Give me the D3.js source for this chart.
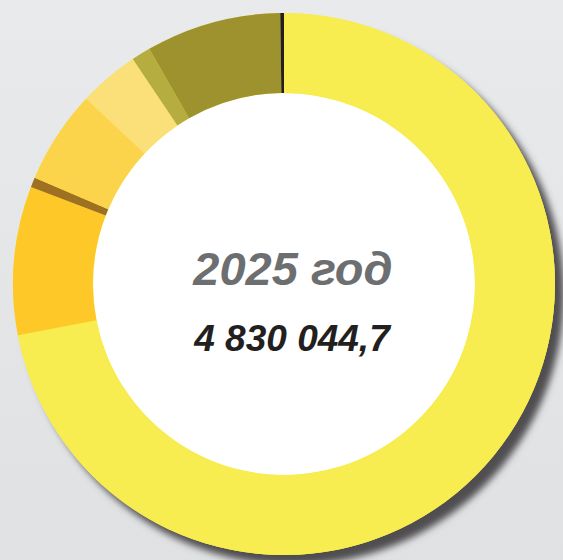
<!DOCTYPE html>
<html>
<head>
<meta charset="utf-8">
<script src="https://cdn.jsdelivr.net/npm/d3@7"></script>
<style>
  html, body { margin: 0; padding: 0; overflow: hidden; }
  svg { display: block; }
  .title { font-family: "Liberation Sans", Arial, sans-serif; font-weight: bold; font-style: italic; }
</style>
</head>
<body>
<script>
//// DATA
// Shares of the total, percent, clockwise from 12 o'clock
var shares = [71.97, 8.86, 0.58, 5.56, 3.61, 1.14, 8.06, 0.22];
var colors = ["#f7ec50", "#fec928", "#9e7021", "#fbd44b", "#fbdf78", "#b6ad40", "#9e922f", "#231f20"];
var yearLabel = "2025 год";
var totalLabel = "4 830 044,7";

//// DIMENSIONS
var width = 563, height = 560,
    cx = 284, cy = 284,
    outerR = 271, innerR = 191;

var svg = d3.select("body").append("svg")
    .attr("width", width)
    .attr("height", height);

var defs = svg.append("defs");

// Background gradient
var bg = defs.append("linearGradient")
    .attr("id", "bg")
    .attr("x1", 0).attr("y1", 0)
    .attr("x2", 0).attr("y2", 1);
bg.append("stop").attr("offset", "0%").attr("stop-color", "#e9eaec");
bg.append("stop").attr("offset", "100%").attr("stop-color", "#e0e1e3");

// Drop shadow
var filter = defs.append("filter")
    .attr("id", "shadow")
    .attr("x", "-10%").attr("y", "-10%")
    .attr("width", "130%").attr("height", "130%");
filter.append("feDropShadow")
    .attr("dx", 9)
    .attr("dy", 10)
    .attr("stdDeviation", 3.5)
    .attr("flood-color", "#4f4e50")
    .attr("flood-opacity", 1);

svg.append("rect")
    .attr("width", width)
    .attr("height", height)
    .attr("fill", "url(#bg)");

var g = svg.append("g")
    .attr("transform", "translate(" + cx + "," + cy + ")");

// Shadow under the ring
g.append("circle")
    .attr("r", outerR)
    .attr("fill", "#f7ec50")
    .attr("filter", "url(#shadow)");

// White hole
g.append("circle")
    .attr("r", innerR)
    .attr("fill", "#ffffff");

var pie = d3.pie().sort(null).value(function(d) { return d; });
var arc = d3.arc().innerRadius(innerR).outerRadius(outerR);

g.selectAll(".slice")
    .data(pie(shares))
  .enter().append("path")
    .attr("class", "slice")
    .attr("d", arc)
    .attr("fill", function(d, i) { return colors[i]; });

// Center labels
svg.append("text")
    .attr("class", "title")
    .attr("x", 293)
    .attr("y", 285)
    .attr("text-anchor", "middle")
    .attr("font-size", 47)
    .attr("fill", "#6d6e70")
    .text(yearLabel);

svg.append("text")
    .attr("class", "title")
    .attr("x", 292)
    .attr("y", 351)
    .attr("text-anchor", "middle")
    .attr("font-size", 37)
    .attr("fill", "#231f20")
    .text(totalLabel);
</script>
</body>
</html>
